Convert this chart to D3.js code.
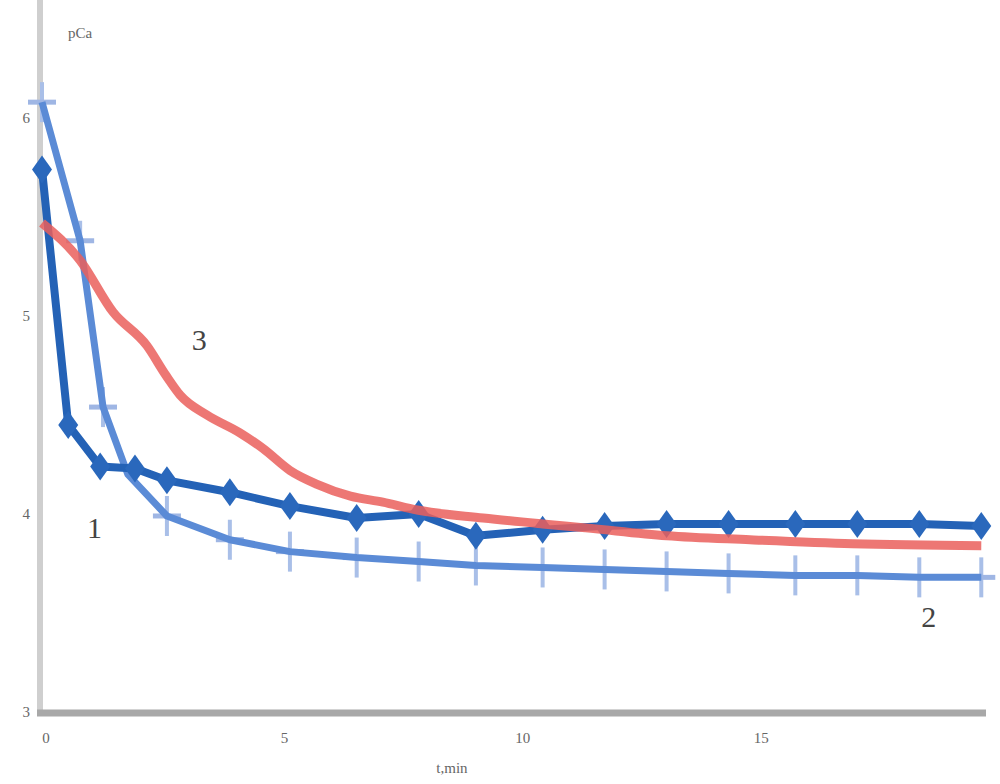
<!DOCTYPE html>
<html><head><meta charset="utf-8">
<script src="https://cdn.jsdelivr.net/npm/d3@7/dist/d3.min.js"></script>
<style>body{margin:0;background:#fff}svg{display:block}</style>
</head><body>
<script>
// Series 1 (dark blue, diamonds)
const t1 = [0, 0.55, 1.22, 1.95, 2.62, 3.94, 5.2, 6.6, 7.9, 9.1, 10.5, 11.8, 13.1, 14.4, 15.8, 17.1, 18.4, 19.7];
const v1 = [5.74, 4.45, 4.24, 4.23, 4.17, 4.11, 4.04, 3.98, 4.0, 3.89, 3.92, 3.94, 3.95, 3.95, 3.95, 3.95, 3.95, 3.94];
// Series 2 (light blue, crosses)
const t2 = [0, 0.8, 1.28, 1.8, 2.62, 3.94, 5.2, 6.6, 7.9, 9.1, 10.5, 11.8, 13.1, 14.4, 15.8, 17.1, 18.4, 19.7];
const v2 = [6.08, 5.38, 4.54, 4.2, 3.99, 3.87, 3.81, 3.78, 3.76, 3.74, 3.73, 3.72, 3.71, 3.70, 3.69, 3.69, 3.68, 3.68];
// Series 3 (red)
const t3 = [0, 0.8, 1.49, 2.2, 2.6, 2.9, 3.46, 4.15, 4.64, 5.2, 5.77, 6.47, 7.15, 7.87, 9.25, 10.5, 11.4, 13.1, 14.85, 17.0, 19.7];
const v3 = [5.47, 5.28, 5.02, 4.85, 4.7, 4.6, 4.5, 4.41, 4.33, 4.22, 4.15, 4.09, 4.06, 4.02, 3.98, 3.95, 3.93, 3.89, 3.87, 3.85, 3.84];
const xTicks = [0, 5, 10, 15];
const yTicks = [3, 4, 5, 6];
const curveLabels = [{text:"1", t:1.1, v:3.88}, {text:"2", t:18.6, v:3.43}, {text:"3", t:3.3, v:4.83}];

const W = 1000, H = 784;
const svg = d3.select("body").append("svg").attr("width", W).attr("height", H);
const x = d3.scaleLinear().domain([0, 19.82]).range([42, 987]);
const y = d3.scaleLinear().domain([3, 6]).range([712, 118]);

// axes lines
svg.append("line").attr("x1", 40).attr("x2", 40).attr("y1", 0).attr("y2", 712)
  .attr("stroke", "#cfcfcf").attr("stroke-width", 6);
svg.append("line").attr("x1", 37).attr("x2", 986).attr("y1", 713).attr("y2", 713)
  .attr("stroke", "#a8a8a8").attr("stroke-width", 7);

const tickFont = "'Liberation Serif', 'DejaVu Serif', serif";
svg.append("g").selectAll("text").data(yTicks).join("text")
  .attr("x", 30).attr("y", d => y(d) + 5).attr("text-anchor", "end")
  .attr("font-family", tickFont).attr("font-size", 15).attr("fill", "#666").text(d => d);
svg.append("g").selectAll("text").data(xTicks).join("text")
  .attr("x", d => x(d) + 4).attr("y", 743).attr("text-anchor", "middle")
  .attr("font-family", tickFont).attr("font-size", 15).attr("fill", "#666").text(d => d);
svg.append("text").attr("x", 80).attr("y", 38).attr("text-anchor", "middle")
  .attr("font-family", tickFont).attr("font-size", 15).attr("fill", "#666").text("pCa");
svg.append("text").attr("x", 452).attr("y", 773).attr("text-anchor", "middle")
  .attr("font-family", tickFont).attr("font-size", 15).attr("fill", "#666").text("t,min");

const line = d3.line().x(d => x(d[0])).y(d => y(d[1]));
const smooth = d3.line().x(d => x(d[0])).y(d => y(d[1])).curve(d3.curveMonotoneX);
const d1 = t1.map((t, i) => [t, v1[i]]);
const d2 = t2.map((t, i) => [t, v2[i]]);
const d3s = t3.map((t, i) => [t, v3[i]]);
const marks2 = d2.filter((d, i) => i !== 3);

// Series 2: light blue with cross markers
const g2 = svg.append("g");
g2.selectAll("line.v").data(marks2).join("line").attr("class", "v")
  .attr("x1", d => x(d[0])).attr("x2", d => x(d[0]))
  .attr("y1", d => y(d[1]) - 20).attr("y2", d => y(d[1]) + 20)
  .attr("stroke", "#a9bfe8").attr("stroke-width", 4);
g2.selectAll("line.h").data(marks2).join("line").attr("class", "h")
  .attr("x1", d => x(d[0]) - 14).attr("x2", d => x(d[0]) + 14)
  .attr("y1", d => y(d[1])).attr("y2", d => y(d[1]))
  .attr("stroke", "#9fb6e4").attr("stroke-width", 5);
g2.append("path").datum(d2).attr("d", line).attr("fill", "none")
  .attr("stroke", "#5b8bd6").attr("stroke-width", 7).attr("stroke-linejoin", "round");

// Series 1: dark blue with diamonds
const g1 = svg.append("g");
g1.append("path").datum(d1).attr("d", line).attr("fill", "none")
  .attr("stroke", "#2462b6").attr("stroke-width", 8).attr("stroke-linejoin", "round");
g1.selectAll("path.m").data(d1).join("path").attr("class", "m")
  .attr("transform", d => `translate(${x(d[0])},${y(d[1])})`)
  .attr("d", "M0,-14L10,0L0,14L-10,0Z").attr("fill", "#2a68bc");

// Series 3: red
const g3 = svg.append("g").attr("opacity", 0.85);
g3.append("path").datum(d3s).attr("d", smooth).attr("fill", "none")
  .attr("stroke", "#ea5f5c").attr("stroke-width", 9).attr("stroke-linejoin", "round");

// curve labels
svg.append("g").selectAll("text").data(curveLabels).join("text")
  .attr("x", d => x(d.t)).attr("y", d => y(d.v)).attr("text-anchor", "middle")
  .attr("font-family", tickFont).attr("font-size", 30).attr("fill", "#444").text(d => d.text);
</script>
</body></html>
